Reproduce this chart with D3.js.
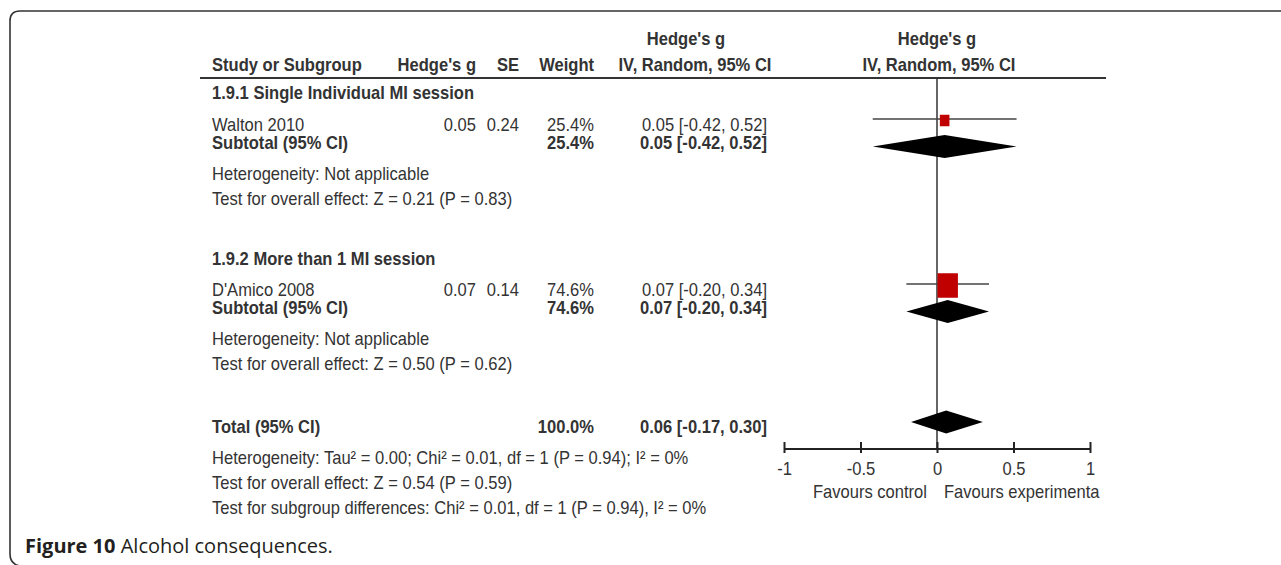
<!DOCTYPE html>
<html>
<head>
<meta charset="utf-8">
<script src="https://cdn.jsdelivr.net/npm/d3@7"></script>
<style>
  html, body { margin: 0; padding: 0; background: #fff; }
  svg { display: block; }
  .t { font-family: "Liberation Sans", Arial, sans-serif; font-size: 18px; fill: #333; }
  .b { font-weight: bold; }
  .cap { font-family: "Open Sans", "Noto Sans", sans-serif; font-size: 20px; fill: #231f20; }
</style>
</head>
<body>
<svg id="chart" width="1281" height="565"></svg>
<script>
// Study data
const studies = ["Walton 2010", "D'Amico 2008"];
const studyG = [0.05, 0.07];
const studySE = [0.24, 0.14];
const studyWeight = [25.4, 74.6];
const studyLo = [-0.42, -0.20];
const studyHi = [0.52, 0.34];

// Subgroups
const subgroups = ["1.9.1 Single Individual MI session", "1.9.2 More than 1 MI session"];
const subWeight = [25.4, 74.6];
const subG = [0.05, 0.07];
const subLo = [-0.42, -0.20];
const subHi = [0.52, 0.34];
const subOverall = ["Test for overall effect: Z = 0.21 (P = 0.83)", "Test for overall effect: Z = 0.50 (P = 0.62)"];

// Total
const totalWeight = 100.0;
const totalG = 0.06;
const totalLo = -0.17;
const totalHi = 0.30;
const totalNotes = [
  "Heterogeneity: Tau\u00b2 = 0.00; Chi\u00b2 = 0.01, df = 1 (P = 0.94); I\u00b2 = 0%",
  "Test for overall effect: Z = 0.54 (P = 0.59)",
  "Test for subgroup differences: Chi\u00b2 = 0.01, df = 1 (P = 0.94), I\u00b2 = 0%"
];

const axisTicks = [-1, -0.5, 0, 0.5, 1];
const favours = ["Favours control", "Favours experimenta"];

// Layout
const svg = d3.select('#chart');
const SX = 0.92;

const rowKeys = ['sg0', 'st0', 'sub0', 'het0', 'ov0', 'sg1', 'st1', 'sub1', 'het1', 'ov1', 'tot', 'het2', 'ov2', 'sgd'];
const y = d3.scaleOrdinal()
  .domain(rowKeys)
  .range([99, 131, 149, 180, 205, 265, 296, 314, 345, 370, 433, 464, 489, 514]);

const x = d3.scaleLinear().domain([-1, 1]).range([784, 1090]);
const size = d3.scaleLinear().domain([0, 100]).range([4, 26]);

const fmt = (v) => v.toFixed(2);
const ci = (g, lo, hi) => `${fmt(g)} [${fmt(lo)}, ${fmt(hi)}]`;

function label(str, px, py, opts = {}) {
  return svg.append('text')
    .attr('class', 't' + (opts.bold ? ' b' : ''))
    .attr('text-anchor', opts.anchor || 'start')
    .attr('transform', `translate(${px},${py}) scale(${SX},1)`)
    .text(str);
}

function diamond(g, lo, hi, cy) {
  const hh = 11.5;
  svg.append('path')
    .attr('d', `M${x(lo)},${cy} L${x(g)},${cy - hh} L${x(hi)},${cy} L${x(g)},${cy + hh} Z`)
    .attr('fill', '#000');
}

// Frame
svg.append('path')
  .attr('d', 'M1281,11 H20 Q10,11 10,21 V554 Q10,564 20,566')
  .attr('fill', 'none')
  .attr('stroke', '#333')
  .attr('stroke-width', 1.6);

// Headers
const colG = 476, colSE = 519, colW = 594, colCI = 767;
label("Hedge's g", 686, 45, { bold: true, anchor: 'middle' });
label("Study or Subgroup", 212, 71, { bold: true });
label("Hedge's g", colG, 71, { bold: true, anchor: 'end' });
label("SE", colSE, 71, { bold: true, anchor: 'end' });
label("Weight", colW, 71, { bold: true, anchor: 'end' });
label("IV, Random, 95% CI", 695, 71, { bold: true, anchor: 'middle' });
label("Hedge's g", x(0), 45, { bold: true, anchor: 'middle' });
label("IV, Random, 95% CI", x(0) + 2, 71, { bold: true, anchor: 'middle' });

svg.append('line')
  .attr('x1', 200).attr('x2', 1106).attr('y1', 78).attr('y2', 78)
  .attr('stroke', '#333').attr('stroke-width', 2);

// Zero line
svg.append('line')
  .attr('x1', x(0)).attr('x2', x(0)).attr('y1', 78).attr('y2', 449)
  .attr('stroke', '#333').attr('stroke-width', 1.5);

// Subgroup blocks
subgroups.forEach((name, i) => {
  label(name, 212, y('sg' + i), { bold: true });
  const sy = y('st' + i);
  label(studies[i], 212, sy);
  label(fmt(studyG[i]), colG, sy, { anchor: 'end' });
  label(fmt(studySE[i]), colSE, sy, { anchor: 'end' });
  label(studyWeight[i].toFixed(1) + '%', colW, sy, { anchor: 'end' });
  label(ci(studyG[i], studyLo[i], studyHi[i]), colCI, sy, { anchor: 'end' });

  const by = y('sub' + i);
  label('Subtotal (95% CI)', 212, by, { bold: true });
  label(subWeight[i].toFixed(1) + '%', colW, by, { bold: true, anchor: 'end' });
  label(ci(subG[i], subLo[i], subHi[i]), colCI, by, { bold: true, anchor: 'end' });

  label('Heterogeneity: Not applicable', 212, y('het' + i));
  label(subOverall[i], 212, y('ov' + i));

  // CI line + square
  const cy = sy - 12;
  svg.append('line')
    .attr('x1', x(studyLo[i])).attr('x2', x(studyHi[i]))
    .attr('y1', cy).attr('y2', cy)
    .attr('stroke', '#444').attr('stroke-width', 1.4);
  const w = size(studyWeight[i]);
  const h = w * 1.2;
  svg.append('rect')
    .attr('x', x(studyG[i]) - w / 2).attr('y', cy - h / 2 + 1.5)
    .attr('width', w).attr('height', h)
    .attr('fill', '#c00000');

  // Subtotal diamond
  diamond(subG[i], subLo[i], subHi[i], by - 2.5);
});

// Total
const ty = y('tot');
label('Total (95% CI)', 212, ty, { bold: true });
label(totalWeight.toFixed(1) + '%', colW, ty, { bold: true, anchor: 'end' });
label(ci(totalG, totalLo, totalHi), colCI, ty, { bold: true, anchor: 'end' });
label(totalNotes[0], 212, y('het2'));
label(totalNotes[1], 212, y('ov2'));
label(totalNotes[2], 212, y('sgd'));
diamond(totalG, totalLo, totalHi, ty - 11);

// Axis
const axisG = svg.append('g')
  .attr('transform', 'translate(0,449)')
  .call(d3.axisBottom(x).tickValues(axisTicks).tickFormat((d) => String(d)).tickSizeOuter(0));
axisG.select('.domain').attr('stroke', '#222').attr('stroke-width', 2).attr('d', `M${x(-1)},0H${x(1)}`);
axisG.selectAll('.tick line').attr('y1', -7).attr('y2', 4).attr('stroke', '#222').attr('stroke-width', 2);
axisG.selectAll('.tick text')
  .attr('class', 't')
  .attr('dy', null)
  .attr('y', null)
  .attr('transform', `translate(0,26) scale(${SX},1)`)
  .style('font-size', '18px')
  .attr('fill', '#333');

label(favours[0], x(0) - 10, 498, { anchor: 'end' });
label(favours[1], x(0) + 7, 498);

// Caption
const cap = svg.append('text')
  .attr('class', 'cap')
  .attr('x', 25)
  .attr('y', 553);
cap.append('tspan').attr('font-weight', 'bold').text('Figure 10');
cap.append('tspan').text(' Alcohol consequences.');
</script>
</body>
</html>
